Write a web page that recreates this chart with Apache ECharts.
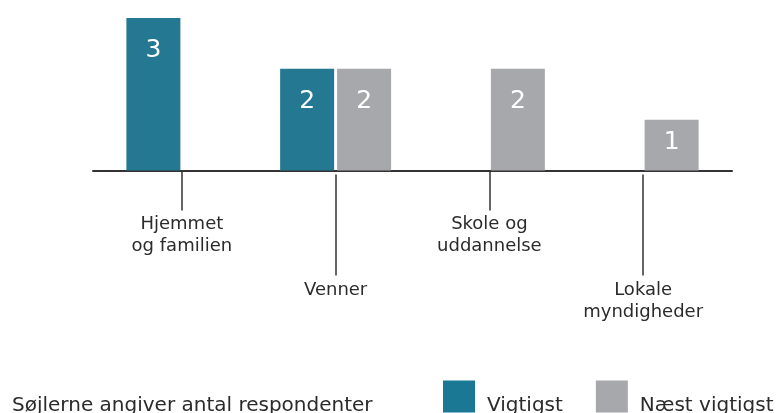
<!DOCTYPE html>
<html>
<head>
<meta charset="utf-8">
<script src="https://cdn.jsdelivr.net/npm/echarts@6/dist/echarts.min.js"></script>
<style>
html,body{margin:0;padding:0;background:#fff;}
#chart{width:779px;height:413px;}
</style>
</head>
<body>
<div id="chart"></div>
<script>
var categories = ['Hjemmet\nog familien', 'Venner', 'Skole og\nuddannelse', 'Lokale\nmyndigheder'];
var vigtigst = [3, 2, 0, 0];
var naestVigtigst = [0, 2, 2, 1];
var seriesNames = ['Vigtigst', 'Næst vigtigst'];
var noteText = 'Søjlerne angiver antal respondenter';

var FONT = 'DejaVu Sans, Verdana, sans-serif';
var TEXT = '#2b2b2b';
var TEAL = '#257891';
var GRAY = '#a7a8ab';

var chart = echarts.init(document.getElementById('chart'), null, {renderer: 'canvas'});

var valueLabel = {
  show: true,
  position: 'insideTop',
  distance: 20,
  color: '#ffffff',
  fontFamily: FONT,
  fontSize: 25,
  formatter: function (p) { return p.value ? String(p.value) : ''; }
};

// short bars get their label a little closer to the top
function barData(values) {
  return values.map(function (v) {
    return v === 1 ? {value: v, label: {distance: 10}} : v;
  });
}

var tickAxis = function (even, len, margin) {
  return {
    type: 'category',
    gridIndex: 0,
    data: categories,
    position: 'bottom',
    offset: 4,
    axisLine: {show: false},
    axisTick: {
      show: true, alignWithLabel: true, length: len,
      interval: function (i) { return (i % 2 === 0) === even; },
      lineStyle: {color: '#333', width: 1.5}
    },
    axisLabel: {
      show: true, margin: margin, color: TEXT, fontFamily: FONT, fontSize: 18, lineHeight: 22,
      interval: function (i) { return (i % 2 === 0) === even; }
    },
    splitLine: {show: false}
  };
};

var option = {
  animation: false,
  backgroundColor: '#ffffff',
  title: {
    text: noteText,
    left: 7,
    top: 391,
    textStyle: {color: TEXT, fontFamily: FONT, fontSize: 20, fontWeight: 'normal'}
  },
  legend: {
    left: 438,
    top: 372,
    itemWidth: 32,
    itemHeight: 32,
    itemGap: 33,
    icon: 'rect',
    data: [
      {name: seriesNames[0], itemStyle: {color: '#1b7894'}},
      {name: seriesNames[1], itemStyle: {color: GRAY}}
    ],
    // a leading empty line drops the text below the middle of the square
    formatter: function (name) { return '\n' + name; },
    textStyle: {color: TEXT, fontFamily: FONT, fontSize: 20, lineHeight: 19, padding: [0, 0, 0, 7]}
  },
  grid: [
    {left: 105, right: 59, top: 18, height: 152.5},
    {left: 93, right: 47, top: 18, height: 152.5}
  ],
  xAxis: [
    tickAxis(true, 40, 39),
    tickAxis(false, 101, 105),
    {
      type: 'value', gridIndex: 1, min: 0, max: 1, position: 'bottom',
      axisLine: {show: true, onZero: false, lineStyle: {color: '#333', width: 2}},
      axisTick: {show: false}, axisLabel: {show: false}, splitLine: {show: false}
    }
  ],
  yAxis: [
    {type: 'value', gridIndex: 0, min: 0, max: 3, show: false, splitLine: {show: false}},
    {type: 'value', gridIndex: 1, min: 0, max: 1, show: false, splitLine: {show: false}}
  ],
  series: [
    {
      name: seriesNames[0], type: 'bar', xAxisIndex: 0, yAxisIndex: 0,
      data: barData(vigtigst), barWidth: 54, barGap: '5.5%',
      itemStyle: {color: TEAL}, label: valueLabel
    },
    {
      name: seriesNames[1], type: 'bar', xAxisIndex: 0, yAxisIndex: 0,
      data: barData(naestVigtigst), barWidth: 54, barGap: '5.5%',
      itemStyle: {color: GRAY}, label: valueLabel
    }
  ]
};
chart.setOption(option);
</script>
</body>
</html>
